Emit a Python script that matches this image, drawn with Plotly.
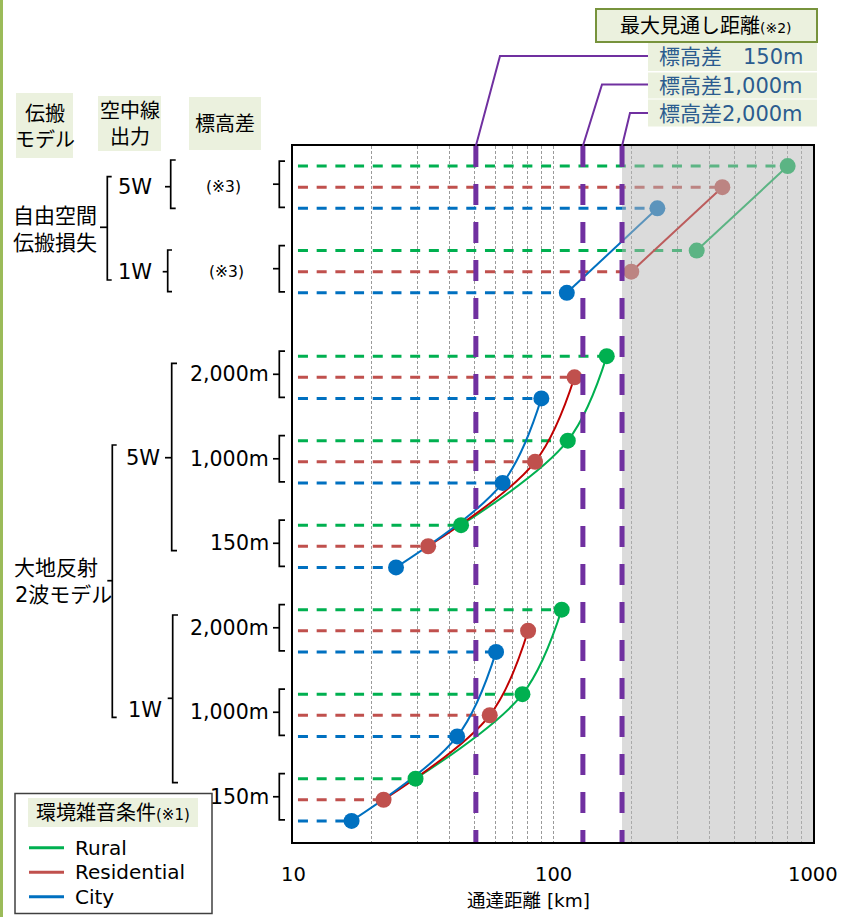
import math
import plotly.graph_objects as go

# ---- data -----------------------------------------------------------------
# noise environment (one series each)
noise_levels = ["Rural", "Residential", "City"]
marker_colors = ["#00B050", "#C0504D", "#0070C0"]
curve_colors = ["#00B050", "#C00000", "#0070C0"]

# reach distance [km] for Rural / Residential / City
free_space_5w = [799, 448, 252]
free_space_1w = [357, 200, 113]
two_ray_5w_2000m = [161, 121, 90.2]
two_ray_5w_1000m = [114, 85.3, 64.0]
two_ray_5w_150m = [44.3, 33.1, 24.9]
two_ray_1w_2000m = [108, 80.2, 60.4]
two_ray_1w_1000m = [76.3, 57.1, 42.8]
two_ray_1w_150m = [29.6, 22.3, 16.8]

# maximum line-of-sight distance [km] per elevation difference
los_labels = ["標高差\u3000150m", "標高差1,000m", "標高差2,000m"]
los_distance = [50.5, 130.3, 184.3]

x_tick_labels = ["10", "100", "1000"]

# ---- layout helpers -------------------------------------------------------
W, H = 850, 917
PL, PR, PT, PB = 293, 813, 146, 842
Y_TOP, Y_BOTTOM = -0.95, 32.0
FONT = "DejaVu Sans, Noto Sans CJK JP, sans-serif"
PURPLE = "#7030A0"
PANEL = "#EBF1DE"


def fx(px):
    return (px - PL) / (PR - PL)


def fy(py):
    return (PB - py) / (PB - PT)


def row_px(r):
    return PT + (r - Y_TOP) / (Y_BOTTOM - Y_TOP) * (PB - PT)


def x_paper(v):
    return (math.log10(v) - 1) / 2


shapes = []
annotations = []


def seg(x0, y0, x1, y1, color="black", width=1.7, layer="above"):
    shapes.append(dict(type="line", xref="paper", yref="paper",
                       x0=fx(x0), y0=fy(y0), x1=fx(x1), y1=fy(y1),
                       line=dict(color=color, width=width), layer=layer))


def box(x0, y0, x1, y1, fill, line_color=None, line_width=0):
    shapes.append(dict(type="rect", xref="paper", yref="paper",
                       x0=fx(x0), y0=fy(y0), x1=fx(x1), y1=fy(y1),
                       fillcolor=fill, layer="above",
                       line=dict(color=line_color or fill, width=line_width)))


def label(text, x, y, size=21, anchor="center", color="black", xref="paper", bg=None):
    ann = dict(text=text, xref=xref, yref="paper",
               x=fx(x) if xref == "paper" else x, y=fy(y),
               xanchor=anchor, yanchor="middle",
               showarrow=False, align=anchor if anchor != "center" else "center",
               font=dict(size=size, color=color, family=FONT))
    if bg:
        ann["bgcolor"] = bg
    annotations.append(ann)


def bracket(x, top, bottom, hook_x, tick_x, tick_y):
    shapes.append(dict(type="path", xref="paper", yref="paper", layer="above",
                       path=f"M {fx(hook_x)},{fy(top)} L {fx(x)},{fy(top)} "
                            f"L {fx(x)},{fy(bottom)} L {fx(hook_x)},{fy(bottom)}",
                       line=dict(color="black", width=1.7)))
    seg(tick_x, tick_y, x, tick_y)


# ---- rows: each group holds Rural / Residential / City on consecutive rows
groups = [
    (free_space_5w, 0), (free_space_1w, 4),
    (two_ray_5w_2000m, 9), (two_ray_5w_1000m, 13), (two_ray_5w_150m, 17),
    (two_ray_1w_2000m, 21), (two_ray_1w_1000m, 25), (two_ray_1w_150m, 29),
]
chains = [
    [(free_space_1w, 4), (free_space_5w, 0)],
    [(two_ray_5w_150m, 17), (two_ray_5w_1000m, 13), (two_ray_5w_2000m, 9)],
    [(two_ray_1w_150m, 29), (two_ray_1w_1000m, 25), (two_ray_1w_2000m, 21)],
]
X_START = 10.45

fig = go.Figure()

# dashed guide from the axis to each point
for i, name in enumerate(noise_levels):
    xs, ys = [], []
    for vals, r0 in groups:
        xs += [X_START, vals[i], None]
        ys += [r0 + i, r0 + i, None]
    fig.add_trace(go.Scatter(x=xs, y=ys, mode="lines", hoverinfo="skip",
                             line=dict(color=marker_colors[i], width=3, dash="10px,8.7px")))

# curves linking the elevation / power steps
for i, name in enumerate(noise_levels):
    for chain in chains:
        fig.add_trace(go.Scatter(
            x=[vals[i] for vals, r0 in chain], y=[r0 + i for vals, r0 in chain],
            mode="lines", hoverinfo="skip",
            line=dict(color=curve_colors[i], width=2, shape="spline", smoothing=1)))

# points
for i, name in enumerate(noise_levels):
    fig.add_trace(go.Scatter(
        x=[vals[i] for vals, r0 in groups], y=[r0 + i for vals, r0 in groups],
        mode="markers", name=name,
        marker=dict(color=marker_colors[i], size=16, line=dict(width=0))))

# region beyond the longest line of sight
shapes.append(dict(type="rect", xref="x", yref="paper", x0=los_distance[-1], x1=1000,
                   y0=0, y1=1, fillcolor="rgba(183,183,183,0.5)", line=dict(width=0),
                   layer="above"))

# line-of-sight markers and their callouts
callout_y = [56, 84.5, 113]
callout_bend = [500, 602, 630]
for k, d in enumerate(los_distance):
    shapes.append(dict(type="line", xref="x", yref="paper", x0=d, x1=d, y0=1, y1=0,
                       line=dict(color=PURPLE, width=5, dash="21px,17px"), layer="above"))
    xp = x_paper(d)
    shapes.append(dict(type="path", xref="paper", yref="paper", layer="above",
                       path=f"M {fx(648)},{fy(callout_y[k])} L {fx(callout_bend[k])},{fy(callout_y[k])} "
                            f"L {xp},1",
                       line=dict(color=PURPLE, width=2)))

box(596, 9, 817, 42, PANEL, "#77933C", 2)
label("最大見通し距離<span style='font-size:14px'>(※2)</span>", 706, 26, size=20)
for k, (y0, y1) in enumerate([(43, 71), (72.5, 98.5), (99.5, 126.5)]):
    box(648, y0, 817, y1, PANEL)
    label(los_labels[k], 657, callout_y[k] + 1, size=21, anchor="left", color="#2B5C8F")

# left-hand category tree
seg(1.5, 0, 1.5, H, color="#9BBB59", width=3)
box(16, 93, 73, 158, PANEL)
label("伝搬<br>モデル", 44.5, 127, size=20)
box(98, 96, 161, 151, PANEL)
label("空中線<br>出力", 129.5, 124, size=20)
box(189, 97, 261, 150, PANEL)
label("標高差", 225, 124, size=20)

label("自由空間<br>伝搬損失", 55, 229.5, size=21)
bracket(107.3, 176.7, 280, 111.7, 100, 227.3)
label("5W", 135, 186.7)
label("1W", 135, 271.7)
bracket(170.7, 160, 208.3, 175.7, 165, 186.7)
bracket(167.7, 250, 291.7, 172, 162.7, 271.7)
label("(※3)", 223, 186.7, size=15.5)
label("(※3)", 226, 271.7, size=15.5)

label("大地反射", 55.5, 568.3, size=21)
label("2波モデル", 63.5, 595, size=21)
bracket(112.3, 445, 717.3, 116.7, 107.3, 580.7)
label("5W", 142.5, 458.3)
label("1W", 145, 710)
bracket(171.7, 363.3, 550.7, 177, 165, 457.7)
bracket(172.7, 615, 782.7, 178, 167.7, 698.3)

height_labels = ["2,000m", "1,000m", "150m", "2,000m", "1,000m", "150m"]
for (vals, r0), text in zip(groups[2:], height_labels):
    top = row_px(r0) - 5
    bottom = row_px(r0 + 2) - 1
    mid = (top + bottom) / 2
    label(text, 271, mid, size=20.5, anchor="right")
for vals, r0 in groups:
    top = row_px(r0) - 5
    bottom = row_px(r0 + 2) - 1
    bracket(279.3, top, bottom, 285, 273, (top + bottom) / 2)

# legend
box(15, 793.5, 212, 913.5, "white", "#404040", 1.5)
box(28, 798, 198, 827, PANEL)
label("環境雑音条件<span style='font-size:15px'>(※1)</span>", 113, 813, size=20)
for i, name in enumerate(noise_levels):
    y = 847.7 + i * 24.5
    seg(29, y, 64, y, color=marker_colors[i], width=3)
    label(name, 73, y, size=20, anchor="left")

# axis title
label("通達距離 [km]", 528, 900, size=18.5)

# distance-axis labels on the log axis (annotation x is log10 of the value)
for t in x_tick_labels:
    label(t, math.log10(float(t)), 875, size=19.5, xref="x", bg="white")

minor_grid = [m * 10 ** e for e in (1, 2) for m in range(2, 10)]
grid_style = dict(showgrid=True, gridcolor="#9A9A9A", gridwidth=1, griddash="3px,2px")
fig.update_layout(
    width=W, height=H, margin=dict(l=PL, r=W - PR, t=PT, b=H - PB),
    paper_bgcolor="white", plot_bgcolor="white", showlegend=False,
    font=dict(family=FONT, color="black"),
    shapes=shapes, annotations=annotations,
)
fig.update_xaxes(
    type="log", range=[1, 3], tickmode="array", tickvals=[float(t) for t in x_tick_labels],
    showticklabels=False,
    minor=dict(tickmode="array", tickvals=minor_grid, ticks="", **grid_style),
    showline=True, mirror=True, linecolor="black", linewidth=2,
    ticks="", zeroline=False,
    **grid_style,
)
fig.update_yaxes(
    range=[Y_BOTTOM, Y_TOP], showticklabels=False, showgrid=False, zeroline=False,
    showline=True, mirror=True, linecolor="black", linewidth=2, ticks="",
)

fig.write_html("out.html")
